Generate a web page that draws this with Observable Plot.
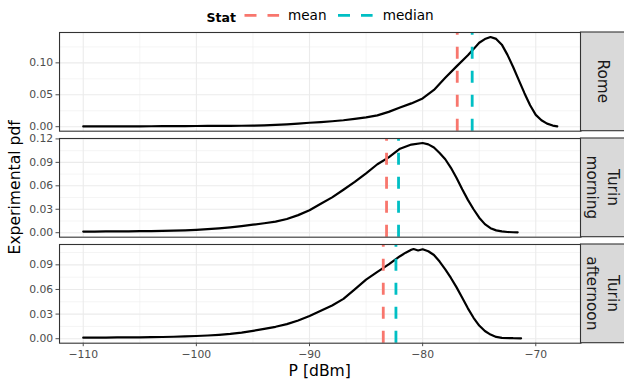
<!DOCTYPE html>
<html><head><meta charset="utf-8">
<script src="https://cdn.jsdelivr.net/npm/d3@7"></script>
<script src="https://cdn.jsdelivr.net/npm/@observablehq/plot@0.6"></script>
<style>
body{margin:0;background:#fff;font-family:"DejaVu Sans",sans-serif;}
#wrap{position:relative;width:624px;height:382px;overflow:hidden;background:#fff;}
#wrap > svg{position:absolute;left:0;}
</style></head>
<body><div id="wrap"></div>
<script>
// ---- data ----
const pRome = [-110,-109,-108,-107,-106,-105,-104,-103,-102,-101,-100,-99,-98,-97,-96,-95,-94,-93,-92,-91,-90,-89,-88,-87,-86,-85,-84,-83,-82,-81,-80,-79,-78,-77,-76,-75.5,-75,-74.5,-74,-73.5,-73,-72.5,-72,-71.5,-71,-70.5,-70,-69.5,-69,-68.5,-68.1];
const pdfRome = [0.0004,0.0004,0.0005,0.0005,0.0006,0.0006,0.0007,0.0008,0.0009,0.0010,0.0011,0.0012,0.0013,0.0014,0.0015,0.0017,0.0022,0.0029,0.0037,0.0048,0.0062,0.0072,0.0085,0.0101,0.0122,0.0146,0.0178,0.0232,0.0300,0.0365,0.0443,0.0575,0.0765,0.0945,0.1120,0.1215,0.1315,0.1372,0.1405,0.1375,0.1285,0.1125,0.0935,0.0730,0.0525,0.0335,0.0185,0.0100,0.0048,0.0018,0.0006];

const pMorning = [-110,-109,-108,-107,-106,-105,-104,-103,-102,-101,-100,-99,-98,-97,-96,-95,-94,-93,-92,-91,-90,-89,-88,-87,-86,-85,-84,-83,-82,-81,-80,-79.5,-79,-78.5,-78,-77.5,-77,-76.5,-76,-75.5,-75,-74.5,-74,-73.5,-73,-72.5,-72,-71.6];
const pdfMorning = [0.0014,0.0015,0.0016,0.0017,0.0018,0.0019,0.0021,0.0023,0.0026,0.0030,0.0037,0.0045,0.0056,0.0069,0.0085,0.0103,0.0121,0.0141,0.0175,0.0225,0.0287,0.0370,0.0452,0.0550,0.0650,0.0760,0.0876,0.0964,0.1075,0.1128,0.1148,0.1130,0.1090,0.1020,0.0940,0.0830,0.0700,0.0555,0.0420,0.0300,0.0192,0.0110,0.0058,0.0030,0.0016,0.0009,0.0006,0.0005];

const pAfternoon = [-110,-109,-108,-107,-106,-105,-104,-103,-102,-101,-100,-99,-98,-97,-96,-95,-94,-93,-92,-91,-90,-89,-88,-87,-86,-85,-84,-83,-82,-81.5,-81,-80.8,-80.4,-80,-79.5,-79,-78.5,-78,-77.5,-77,-76.5,-76,-75.5,-75,-74.5,-74,-73.5,-73,-72,-71.3];
const pdfAfternoon = [0.0012,0.0013,0.0014,0.0015,0.0016,0.0017,0.0019,0.0021,0.0024,0.0028,0.0033,0.0039,0.0047,0.0058,0.0075,0.0096,0.0120,0.0145,0.0178,0.0222,0.0276,0.0340,0.0405,0.0485,0.0600,0.0720,0.0815,0.0905,0.1005,0.1048,0.1083,0.1093,0.1075,0.1090,0.1065,0.1020,0.0940,0.0845,0.0740,0.0625,0.0500,0.0370,0.0255,0.0160,0.0094,0.0050,0.0022,0.0011,0.0006,0.0005];

const locationLabels = [["Rome"], ["Turin","morning"], ["Turin","afternoon"]];
const statNames = ["mean", "median"];
const statColors = ["#F8766D", "#00BFC4"];
const meanP = [-76.94, -83.19, -83.48];
const medianP = [-75.62, -82.13, -82.36];

const xTicks = [-110, -100, -90, -80, -70];
const xMinorTicks = [-105, -95, -85, -75];
const yTicksList = [[0, 0.05, 0.10], [0, 0.03, 0.06, 0.09, 0.12], [0, 0.03, 0.06, 0.09]];
const yMinorList = [[0.025, 0.075, 0.125], [0.015, 0.045, 0.075, 0.105], [0.015, 0.045, 0.075, 0.105]];

const xTitle = "P [dBm]";
const yTitle = "Experimental pdf";
const legendTitle = "Stat";

// ---- layout ----
const W = 624, H = 382;
const left = 59, right = 580.5;
const panelTops = [32, 138, 244];
const panelH = 98.7;

const series = [[pRome, pdfRome], [pMorning, pdfMorning], [pAfternoon, pdfAfternoon]];
const allP = [].concat(pRome, pMorning, pAfternoon);
const [xmin, xmax] = d3.extent(allP);
const xpad = (xmax - xmin) * 0.05;
const xDomain = [xmin - xpad, xmax + xpad];

const wrap = document.getElementById("wrap");

series.forEach(([ps, pdfs], i) => {
  const isLast = i === series.length - 1;
  const mt = 3, mb = isLast ? 40 : 3;
  const yMax = d3.max(pdfs);
  const yDomain = [-0.05 * yMax, 1.05 * yMax];
  const data = ps.map((p, j) => ({p, pdf: pdfs[j]}));
  const stats = [{stat: statNames[0], p: meanP[i]}, {stat: statNames[1], p: medianP[i]}];
  const chart = Plot.plot({
    width: W,
    height: panelH + mt + mb,
    marginLeft: left,
    marginRight: W - right,
    marginTop: mt,
    marginBottom: mb,
    style: {fontFamily: "DejaVu Sans", fontSize: "10.8px", color: "#4D4D4D", background: "transparent", overflow: "visible"},
    x: {domain: xDomain, ...(isLast ? {} : {axis: null})},
    y: {domain: yDomain},
    color: {domain: statNames, range: statColors},
    marks: [
      Plot.gridX(xMinorTicks, {stroke: "#EBEBEB", strokeOpacity: 1, strokeWidth: 0.55}),
      Plot.gridY(yMinorList[i], {stroke: "#EBEBEB", strokeOpacity: 1, strokeWidth: 0.55}),
      Plot.gridX(xTicks, {stroke: "#EBEBEB", strokeOpacity: 1, strokeWidth: 1.1}),
      Plot.gridY(yTicksList[i], {stroke: "#EBEBEB", strokeOpacity: 1, strokeWidth: 1.1}),
      Plot.line(data, {x: "p", y: "pdf", stroke: "black", strokeWidth: 2.2}),
      Plot.ruleX(stats, {x: "p", y1: yDomain[0], y2: yDomain[1], stroke: "stat", strokeWidth: 2.8, strokeDasharray: "12,12"}),
      Plot.frame({stroke: "#333333", strokeWidth: 1.1}),
      Plot.axisY({ticks: yTicksList[i], tickFormat: d3.format(".2f"), tickSize: 3.5, tickPadding: 2.8, label: null}),
      isLast ? Plot.axisX({ticks: xTicks, tickSize: 3.5, tickPadding: 3.2, label: null}) : null
    ]
  });
  chart.style.top = (panelTops[i] - mt) + "px";
  wrap.appendChild(chart);
});

// ---- overlay: strips, titles, legend ----
const ns = "http://www.w3.org/2000/svg";
const ov = document.createElementNS(ns, "svg");
ov.setAttribute("width", W); ov.setAttribute("height", H);
ov.style.top = "0px"; ov.style.pointerEvents = "none";
ov.setAttribute("font-family", "DejaVu Sans");
function el(tag, attrs, text) {
  const e = document.createElementNS(ns, tag);
  for (const k in attrs) e.setAttribute(k, attrs[k]);
  if (text != null) e.textContent = text;
  ov.appendChild(e);
  return e;
}
// strips
locationLabels.forEach((lines, i) => {
  const top = panelTops[i];
  el("rect", {x: right, y: top, width: 50, height: panelH, fill: "#D9D9D9", stroke: "#333333", "stroke-width": 1.1});
  const cy = top + panelH / 2;
  const baselines = lines.length === 1 ? [598] : [607.5, 587];
  lines.forEach((t, k) => {
    el("text", {x: 0, y: 0, transform: `translate(${baselines[k]},${cy}) rotate(90)`, "text-anchor": "middle", "font-size": 15.3, fill: "#1A1A1A"}, t);
  });
});
// axis titles
el("text", {x: (left + right) / 2, y: 376, "text-anchor": "middle", "font-size": 15.6, fill: "#000"}, xTitle);
el("text", {x: 0, y: 0, transform: `translate(19.7,${(panelTops[0] + panelTops[2] + panelH) / 2}) rotate(-90)`, "text-anchor": "middle", "font-size": 15.6, fill: "#000"}, yTitle);
// legend
el("text", {x: 206.5, y: 22.3, "font-size": 12.5, "font-weight": "bold", fill: "#000"}, legendTitle);
const keyX = [244.5, 338];
const labX = [288, 382.7];
statNames.forEach((s, k) => {
  el("line", {x1: keyX[k], x2: keyX[k] + 34.6, y1: 15.3, y2: 15.3, stroke: statColors[k], "stroke-width": 2.8, "stroke-dasharray": "12,11"});
  el("text", {x: labX[k], y: 19.5, "font-size": 13.6, fill: "#000"}, s);
});
wrap.appendChild(ov);
</script></body></html>
